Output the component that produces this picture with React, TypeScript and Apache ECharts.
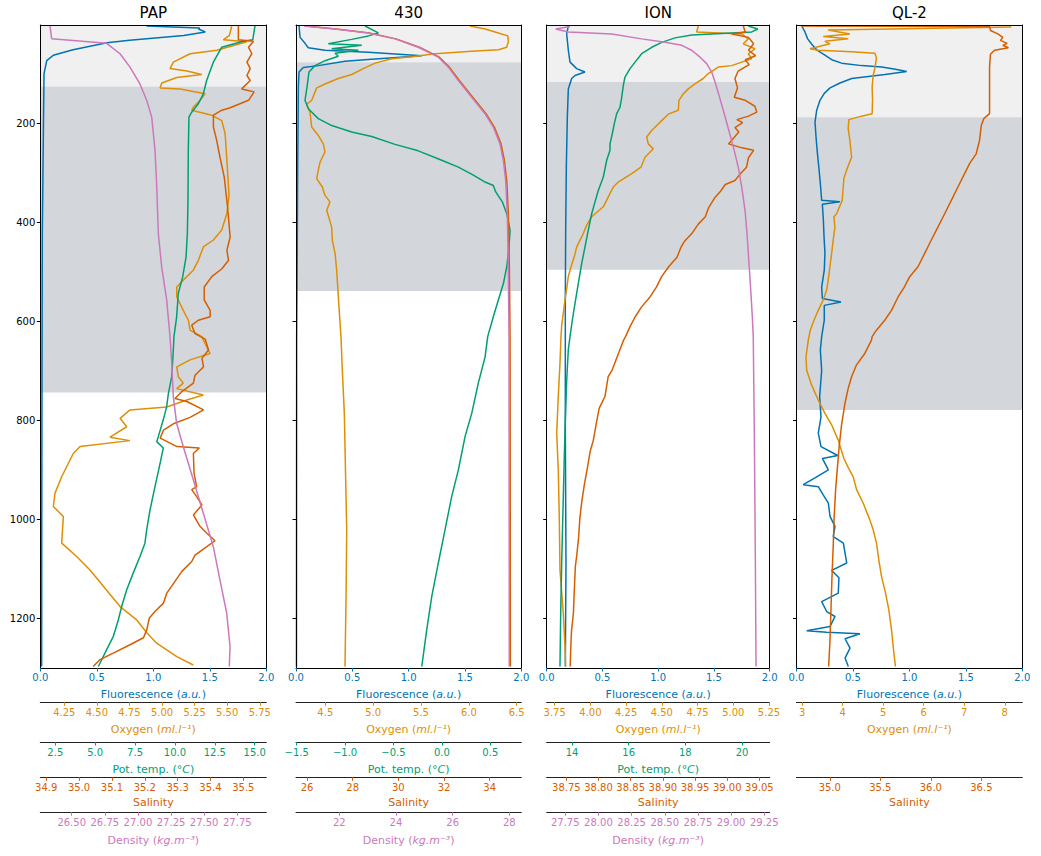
import React, { useEffect, useRef } from 'react';
import * as echarts from 'echarts';

type Pt = [number, number];

const FONT = 'DejaVu Sans';
const COLORS: Record<string, string> = { fl: '#0173B2', ox: '#DE8F05', te: '#029E73', sa: '#D55E00', de: '#CC78BC' };
const SHADE_LIGHT = '#f0f0f0';
const SHADE_DARK = '#d3d7db';

const DEPTH_MIN = 2;
const DEPTH_MAX = 1300;
const DEPTH_TICKS = [200, 400, 600, 800, 1000, 1200];
const FLUO_TICKS = [0, 0.5, 1, 1.5, 2];

// ---------- PAP ----------
const PAP_FLUO: Pt[] = [[0.94,4],[1.41,8],[1.40,10],[1.46,16],[1.27,23],[0.79,33],[0.59,38],[0.29,52],[0.115,63],[0.057,74],[0.033,100],[0.027,221],[0.018,423],[0.015,700],[0.013,1000],[0.012,1297]];
const PAP_OXY: Pt[] = [[5.535,4],[5.517,23],[5.470,32],[5.650,36],[5.420,53],[5.215,60],[5.087,77],[5.061,90],[5.190,95],[5.305,102],[5.113,108],[4.998,119],[4.985,129],[5.138,131],[5.330,141],[5.292,154],[5.240,168],[5.228,174],[5.381,184],[5.458,195],[5.484,221],[5.501,289],[5.514,346],[5.497,383],[5.458,416],[5.394,436],[5.317,450],[5.279,477],[5.240,497],[5.163,517],[5.113,531],[5.113,551],[5.163,578],[5.202,598],[5.215,618],[5.305,631],[5.330,645],[5.368,665],[5.215,678],[5.113,692],[5.125,712],[5.163,725],[5.113,736],[5.317,749],[5.190,759],[5.036,773],[4.754,779],[4.678,796],[4.729,813],[4.601,834],[4.754,841],[4.371,853],[4.319,867],[4.230,914],[4.179,947],[4.166,974],[4.243,994],[4.230,1048],[4.345,1075],[4.447,1102],[4.550,1135],[4.678,1176],[4.806,1203],[4.883,1229],[4.959,1250],[5.113,1277],[5.240,1294]];
const PAP_TEMP: Pt[] = [[15.02,4],[14.88,32],[14.29,35],[12.93,47],[12.41,77],[11.99,114],[11.78,141],[11.47,161],[11.05,178],[10.88,188],[10.84,255],[10.82,356],[10.78,423],[10.70,470],[10.49,510],[10.21,544],[10.11,591],[9.94,631],[9.90,658],[9.80,712],[9.59,746],[9.48,773],[9.27,799],[8.96,833],[8.86,843],[9.27,856],[9.07,887],[8.75,934],[8.44,981],[8.23,1021],[8.12,1048],[7.81,1075],[7.39,1108],[6.98,1142],[6.66,1176],[6.45,1203],[6.14,1236],[5.72,1263],[5.20,1297]];
const PAP_SAL: Pt[] = [[35.485,4],[35.485,32],[35.531,35],[35.516,47],[35.526,60],[35.511,77],[35.521,90],[35.511,104],[35.521,114],[35.495,131],[35.533,137],[35.516,154],[35.460,169],[35.435,174],[35.409,184],[35.409,208],[35.419,235],[35.429,269],[35.442,309],[35.452,369],[35.460,430],[35.450,457],[35.455,477],[35.435,494],[35.404,510],[35.381,531],[35.381,557],[35.399,578],[35.399,591],[35.363,598],[35.343,608],[35.353,625],[35.384,636],[35.394,658],[35.374,675],[35.379,692],[35.353,709],[35.348,725],[35.313,742],[35.292,756],[35.328,762],[35.379,779],[35.338,794],[35.287,807],[35.257,820],[35.247,836],[35.298,853],[35.366,856],[35.348,867],[35.350,907],[35.358,934],[35.343,940],[35.358,954],[35.374,971],[35.348,991],[35.368,1014],[35.389,1028],[35.414,1043],[35.389,1055],[35.353,1072],[35.343,1085],[35.313,1105],[35.292,1125],[35.267,1149],[35.257,1169],[35.231,1186],[35.214,1199],[35.206,1223],[35.196,1239],[35.155,1253],[35.104,1270],[35.064,1283],[35.043,1297]];
const PAP_DENS: Pt[] = [[26.336,3],[26.349,30],[26.764,39],[26.865,60],[26.940,87],[27.015,121],[27.066,154],[27.104,188],[27.129,255],[27.141,322],[27.154,423],[27.179,490],[27.217,557],[27.242,631],[27.255,685],[27.267,752],[27.292,806],[27.342,853],[27.418,920],[27.493,987],[27.569,1055],[27.619,1122],[27.670,1189],[27.695,1256],[27.690,1297]];
const PAP_SHADE = [126, 744];
const PAP_OX_TICKS = [4.25, 4.5, 4.75, 5, 5.25, 5.5, 5.75];
const PAP_TE_TICKS = [2.5, 5, 7.5, 10, 12.5, 15];
const PAP_SA_TICKS = [34.9, 35.0, 35.1, 35.2, 35.3, 35.4, 35.5];
const PAP_DE_TICKS = [26.5, 26.75, 27, 27.25, 27.5, 27.75];

// ---------- 430 ----------
const S430_FLUO: Pt[] = [[0.027,4],[0.036,27],[0.080,39],[0.109,48],[0.257,53],[0.642,57],[1.116,64],[0.672,71],[0.435,75],[0.198,84],[0.065,88],[0.027,97],[0.021,127],[0.015,289],[0.010,500],[0.006,631],[0.004,1297]];
const S430_OXY: Pt[] = [[6.013,4],[6.170,10],[6.309,18],[6.407,24],[6.413,35],[6.396,47],[6.309,52],[6.031,55],[5.647,60],[5.403,66],[5.194,70],[5.020,79],[4.897,90],[4.776,102],[4.636,110],[4.497,121],[4.410,129],[4.385,141],[4.358,154],[4.306,162],[4.340,178],[4.358,208],[4.427,225],[4.479,242],[4.497,258],[4.445,279],[4.427,295],[4.410,312],[4.469,329],[4.497,346],[4.549,359],[4.515,376],[4.567,410],[4.573,436],[4.602,463],[4.619,497],[4.630,531],[4.643,571],[4.664,631],[4.678,699],[4.699,786],[4.713,920],[4.724,1021],[4.717,1156],[4.706,1297]];
const S430_TEMP: Pt[] = [[-0.794,4],[-0.657,18],[-0.760,24],[-0.932,31],[-1.173,40],[-0.828,43],[-1.138,50],[-0.863,53],[-1.104,59],[-1.070,65],[-1.207,74],[-1.311,84],[-1.373,97],[-1.393,127],[-1.414,154],[-1.380,171],[-1.277,191],[-1.138,205],[-0.932,218],[-0.725,227],[-0.484,243],[-0.244,256],[-0.002,275],[0.170,289],[0.325,305],[0.446,319],[0.531,326],[0.556,339],[0.624,359],[0.670,383],[0.704,416],[0.693,450],[0.670,490],[0.635,524],[0.583,557],[0.531,591],[0.473,631],[0.446,672],[0.376,725],[0.308,786],[0.239,833],[0.170,900],[0.101,954],[0.032,1021],[-0.037,1088],[-0.105,1156],[-0.157,1223],[-0.208,1297]];
const S430_SAL: Pt[] = [[25.925,4],[27.270,10],[28.729,18],[29.898,30],[30.919,47],[31.795,67],[32.233,87],[32.671,114],[33.258,148],[33.840,181],[34.204,208],[34.497,242],[34.642,275],[34.747,316],[34.817,383],[34.861,490],[34.892,631],[34.905,1297]];
const S430_DENS: Pt[] = [[20.764,4],[21.848,10],[23.023,18],[23.966,30],[24.788,47],[25.494,67],[25.847,87],[26.200,114],[26.673,148],[27.142,181],[27.435,208],[27.672,242],[27.789,275],[27.873,316],[27.930,383],[27.965,490],[27.990,631],[28.000,1297]];
const S430_SHADE = [77, 539];
const S430_OX_TICKS = [4.5, 5, 5.5, 6, 6.5];
const S430_TE_TICKS = [-1.5, -1, -0.5, 0, 0.5];
const S430_SA_TICKS = [26, 28, 30, 32, 34];
const S430_DE_TICKS = [22, 24, 26, 28];

// ---------- ION ----------
const ION_FLUO: Pt[] = [[0.194,4],[0.179,20],[0.194,53],[0.209,77],[0.269,90],[0.343,97],[0.254,104],[0.224,110],[0.194,131],[0.185,188],[0.176,289],[0.170,423],[0.167,557],[0.167,819],[0.173,1088],[0.167,1297]];
const ION_OXY: Pt[] = [[4.755,4],[4.744,16],[5.059,20],[5.105,30],[5.070,40],[5.152,50],[5.105,60],[5.129,70],[5.059,77],[4.989,84],[4.895,87],[4.825,100],[4.790,110],[4.732,121],[4.685,131],[4.650,141],[4.620,154],[4.615,174],[4.545,182],[4.499,195],[4.429,215],[4.394,228],[4.405,242],[4.440,252],[4.382,269],[4.354,289],[4.289,302],[4.195,319],[4.160,329],[4.125,349],[4.090,369],[4.009,389],[3.974,406],[3.950,423],[3.904,450],[3.887,470],[3.864,490],[3.845,510],[3.834,534],[3.822,557],[3.810,584],[3.799,608],[3.794,631],[3.787,685],[3.775,752],[3.764,826],[3.775,900],[3.782,994],[3.787,1102],[3.810,1189],[3.822,1256],[3.827,1297]];
const ION_TEMP: Pt[] = [[20.223,4],[20.555,10],[20.343,16],[19.284,19],[18.225,22],[17.636,28],[17.166,37],[16.813,47],[16.460,60],[16.224,77],[16.047,90],[15.871,107],[15.811,124],[15.754,148],[15.694,168],[15.578,181],[15.493,201],[15.423,221],[15.341,242],[15.341,255],[15.225,275],[15.105,309],[14.928,336],[14.812,359],[14.695,383],[14.575,416],[14.459,450],[14.342,483],[14.222,524],[14.106,564],[14.011,598],[13.929,631],[13.869,658],[13.813,719],[13.753,819],[13.693,954],[13.636,1088],[13.601,1189],[13.576,1297]];
const ION_SAL: Pt[] = [[39.025,4],[39.028,16],[39.007,20],[39.033,27],[39.041,40],[39.033,53],[39.044,64],[39.028,72],[39.034,82],[39.017,95],[39.012,110],[39.016,129],[39.011,148],[39.028,154],[39.043,166],[39.046,178],[39.033,186],[39.015,193],[39.024,199],[39.012,209],[39.018,218],[39.002,242],[39.023,250],[39.041,255],[39.033,270],[39.030,289],[39.020,303],[39.012,316],[38.997,324],[38.990,337],[38.981,350],[38.971,371],[38.966,389],[38.955,404],[38.945,423],[38.934,438],[38.928,451],[38.922,471],[38.909,490],[38.898,510],[38.890,531],[38.880,551],[38.867,571],[38.857,591],[38.849,611],[38.842,631],[38.839,638],[38.831,665],[38.821,699],[38.815,712],[38.810,752],[38.801,776],[38.797,803],[38.792,840],[38.787,863],[38.783,894],[38.778,930],[38.774,964],[38.771,998],[38.769,1038],[38.766,1075],[38.764,1095],[38.762,1156],[38.761,1189],[38.758,1226],[38.757,1256],[38.756,1297]];
const ION_DENS: Pt[] = [[27.786,5],[27.678,10],[27.773,16],[28.100,20],[28.326,30],[28.502,37],[28.628,43],[28.703,53],[28.766,67],[28.816,80],[28.854,97],[28.879,117],[28.909,144],[28.941,174],[28.979,211],[29.017,248],[29.054,289],[29.080,329],[29.105,376],[29.120,423],[29.135,483],[29.148,537],[29.160,591],[29.167,631],[29.175,819],[29.183,1088],[29.188,1297]];
const ION_SHADE = [117, 496];
const ION_OX_TICKS = [3.75, 4, 4.25, 4.5, 4.75, 5, 5.25];
const ION_TE_TICKS = [14, 16, 18, 20];
const ION_SA_TICKS = [38.75, 38.8, 38.85, 38.9, 38.95, 39, 39.05];
const ION_DE_TICKS = [27.75, 28, 28.25, 28.5, 28.75, 29, 29.25];

// ---------- QL-2 ----------
const QL2_FLUO: Pt[] = [[0.046,4],[0.075,16],[0.099,30],[0.135,41],[0.179,52],[0.238,61],[0.312,72],[0.400,79],[0.578,84],[0.755,87],[0.888,92],[0.976,96],[0.784,102],[0.636,106],[0.489,110],[0.385,119],[0.297,129],[0.246,140],[0.208,154],[0.179,174],[0.164,198],[0.173,228],[0.184,258],[0.199,292],[0.211,322],[0.223,356],[0.385,359],[0.229,364],[0.238,396],[0.244,430],[0.252,463],[0.246,497],[0.223,531],[0.229,554],[0.394,561],[0.246,568],[0.246,598],[0.223,631],[0.211,658],[0.223,699],[0.205,752],[0.217,793],[0.193,826],[0.217,853],[0.365,871],[0.229,877],[0.282,900],[0.179,914],[0.060,930],[0.193,934],[0.238,951],[0.282,967],[0.297,994],[0.341,1014],[0.326,1035],[0.415,1048],[0.445,1088],[0.312,1103],[0.376,1118],[0.370,1149],[0.223,1166],[0.267,1186],[0.341,1196],[0.297,1216],[0.090,1225],[0.267,1228],[0.562,1231],[0.430,1241],[0.474,1260],[0.430,1280],[0.459,1297]];
const QL2_OXY: Pt[] = [[8.160,6],[3.643,12],[4.178,20],[3.520,25],[4.136,30],[3.562,35],[3.685,40],[3.193,50],[3.397,53],[4.220,56],[4.793,59],[4.835,68],[4.793,90],[4.752,104],[4.727,127],[4.737,154],[4.727,181],[4.466,186],[4.153,193],[4.136,211],[4.178,235],[4.220,269],[4.096,295],[4.030,312],[3.988,356],[3.850,383],[3.784,389],[3.808,410],[3.766,436],[3.727,463],[3.685,490],[3.643,517],[3.604,537],[3.520,557],[3.397,578],[3.291,598],[3.200,618],[3.168,631],[3.151,638],[3.094,672],[3.111,699],[3.234,729],[3.397,759],[3.562,786],[3.727,809],[3.890,840],[4.030,877],[4.136,895],[4.259,914],[4.343,940],[4.505,967],[4.670,1001],[4.752,1021],[4.835,1048],[4.892,1082],[4.958,1115],[5.057,1149],[5.138,1182],[5.205,1223],[5.254,1263],[5.303,1297]];
const QL2_SAL: Pt[] = [[34.722,4],[36.581,5],[36.590,13],[36.663,20],[36.712,27],[36.689,33],[36.755,39],[36.712,43],[36.768,48],[36.630,53],[36.590,61],[36.581,87],[36.581,181],[36.524,191],[36.499,205],[36.482,235],[36.449,262],[36.383,282],[36.334,302],[36.268,329],[36.203,356],[36.137,383],[36.070,410],[36.005,436],[35.939,463],[35.873,490],[35.791,510],[35.735,532],[35.676,551],[35.611,578],[35.544,598],[35.462,618],[35.419,631],[35.413,638],[35.347,665],[35.265,688],[35.216,712],[35.182,736],[35.150,766],[35.117,809],[35.093,853],[35.074,900],[35.058,940],[35.044,994],[35.034,1055],[35.021,1122],[35.011,1189],[35.001,1250],[34.989,1297]];
const QL2_SHADE = [188, 779];
const QL2_OX_TICKS = [3, 4, 5, 6, 7, 8];
const QL2_SA_TICKS = [35, 35.5, 36, 36.5];

// ---------- layout ----------
const PLOT_TOP = 24.5;
const PLOT_BOTTOM = 668;
const OFFSETS: Record<string, number> = { fl: 0, ox: 34.3, te: 74, sa: 109.3, de: 144.3 };
const NAME_GAPS: Record<string, number> = { fl: 21, ox: 22, te: 22, sa: 17, de: 22.5 };
const AXIS_NAMES: Record<string, string> = {
  fl: 'Fluorescence ({i|a.u.})',
  ox: 'Oxygen ({i|ml.l⁻¹})',
  te: 'Pot. temp. (°{i|C})',
  sa: 'Salinity',
  de: 'Density ({i|kg.m⁻³})',
};

type AxisSpec = { key: string; min: number; max: number; ticks: number[]; dec: number; data: Pt[] };
type Panel = { title: string; left: number; width: number; shade: number[]; axes: AxisSpec[] };

const PANELS: Panel[] = [
  { title: 'PAP', left: 40.3, width: 226, shade: PAP_SHADE, axes: [
    { key: 'fl', min: 0, max: 2, ticks: FLUO_TICKS, dec: 1, data: PAP_FLUO },
    { key: 'ox', min: 4.066, max: 5.80, ticks: PAP_OX_TICKS, dec: 2, data: PAP_OXY },
    { key: 'te', min: 1.56, max: 15.73, ticks: PAP_TE_TICKS, dec: 1, data: PAP_TEMP },
    { key: 'sa', min: 34.882, max: 35.570, ticks: PAP_SA_TICKS, dec: 1, data: PAP_SAL },
    { key: 'de', min: 26.263, max: 27.969, ticks: PAP_DE_TICKS, dec: 2, data: PAP_DENS },
  ] },
  { title: '430', left: 296, width: 225.3, shade: S430_SHADE, axes: [
    { key: 'fl', min: 0, max: 2, ticks: FLUO_TICKS, dec: 1, data: S430_FLUO },
    { key: 'ox', min: 4.194, max: 6.548, ticks: S430_OX_TICKS, dec: 1, data: S430_OXY },
    { key: 'te', min: -1.507, max: 0.82, ticks: S430_TE_TICKS, dec: 1, data: S430_TEMP },
    { key: 'sa', min: 25.518, max: 35.384, ticks: S430_SA_TICKS, dec: 0, data: S430_SAL },
    { key: 'de', min: 20.471, max: 28.424, ticks: S430_DE_TICKS, dec: 0, data: S430_DENS },
  ] },
  { title: 'ION', left: 546.7, width: 223, shade: ION_SHADE, axes: [
    { key: 'fl', min: 0, max: 2, ticks: FLUO_TICKS, dec: 1, data: ION_FLUO },
    { key: 'ox', min: 3.694, max: 5.255, ticks: ION_OX_TICKS, dec: 2, data: ION_OXY },
    { key: 'te', min: 13.107, max: 20.977, ticks: ION_TE_TICKS, dec: 0, data: ION_TEMP },
    { key: 'sa', min: 38.7195, max: 39.066, ticks: ION_SA_TICKS, dec: 2, data: ION_SAL },
    { key: 'de', min: 27.61, max: 29.291, ticks: ION_DE_TICKS, dec: 2, data: ION_DENS },
  ] },
  { title: 'QL-2', left: 796.5, width: 225.8, shade: QL2_SHADE, axes: [
    { key: 'fl', min: 0, max: 2, ticks: FLUO_TICKS, dec: 1, data: QL2_FLUO },
    { key: 'ox', min: 2.86, max: 8.433, ticks: QL2_OX_TICKS, dec: 0, data: QL2_OXY },
    { key: 'sa', min: 34.671, max: 36.905, ticks: QL2_SA_TICKS, dec: 1, data: QL2_SAL },
  ] },
];

const DRAW_ORDER = ['fl', 'ox', 'te', 'sa', 'de'];

function buildOption() {
  const grid: any[] = [];
  const xAxis: any[] = [];
  const yAxis: any[] = [];
  const series: any[] = [];
  const FS = 10;
  const NFS = 11;

  PANELS.forEach((p, gi) => {
    grid.push({ left: p.left, top: PLOT_TOP, width: p.width, height: PLOT_BOTTOM - PLOT_TOP, containLabel: false });

    const yi = yAxis.length;
    yAxis.push({
      type: 'value', gridIndex: gi, inverse: true, min: DEPTH_MIN, max: DEPTH_MAX, z: 6,
      axisLine: { show: true, onZero: false, lineStyle: { color: '#000', width: 1 } },
      axisTick: { show: true, customValues: DEPTH_TICKS, length: 3.5, lineStyle: { color: '#000' } },
      axisLabel: {
        show: gi === 0, customValues: DEPTH_TICKS, color: '#000', fontSize: FS, fontFamily: FONT, margin: 5,
        formatter: (v: number) => String(Math.round(v)),
      },
      splitLine: { show: false },
    });
    yAxis.push({
      type: 'value', gridIndex: gi, position: 'right', inverse: true, min: DEPTH_MIN, max: DEPTH_MAX, z: 6,
      axisLine: { show: true, onZero: false, lineStyle: { color: '#000', width: 1 } },
      axisTick: { show: false }, axisLabel: { show: false }, splitLine: { show: false },
    });

    // top frame + title
    xAxis.push({
      type: 'value', gridIndex: gi, position: 'top', min: 0, max: 1, z: 6,
      axisLine: { show: true, onZero: false, lineStyle: { color: '#000', width: 1 } },
      axisTick: { show: false }, axisLabel: { show: false }, splitLine: { show: false },
      name: p.title, nameLocation: 'middle', nameGap: 5,
      nameTextStyle: { fontSize: 15, fontWeight: 'normal', color: '#000', fontFamily: FONT },
    });

    const axisIdx: Record<string, number> = {};
    p.axes.forEach((a) => {
      const col = COLORS[a.key];
      axisIdx[a.key] = xAxis.length;
      xAxis.push({
        type: 'value', gridIndex: gi, position: 'bottom', offset: OFFSETS[a.key], min: a.min, max: a.max, z: 6,
        axisLine: { show: true, onZero: false, lineStyle: { color: a.key === 'fl' ? '#000' : '#222', width: 1 } },
        axisTick: { show: true, customValues: a.ticks, length: 3.5, lineStyle: { color: col } },
        axisLabel: {
          show: true, customValues: a.ticks, color: col, fontSize: FS, fontFamily: FONT, margin: a.key === 'fl' ? 4 : 5,
          formatter: (v: number) => v.toFixed(a.dec).replace('-', '\u2212'),
        },
        splitLine: { show: false },
        name: AXIS_NAMES[a.key], nameLocation: 'middle', nameGap: NAME_GAPS[a.key],
        nameTextStyle: {
          color: col, fontSize: NFS, fontFamily: FONT,
          rich: { i: { fontStyle: 'italic', color: col, fontSize: NFS, fontFamily: FONT } },
        },
      });
    });

    // shading bands
    series.push({
      type: 'line', xAxisIndex: axisIdx['fl'], yAxisIndex: yi, data: [], z: 1, silent: true,
      markArea: {
        silent: true,
        data: [
          [{ yAxis: DEPTH_MIN, itemStyle: { color: SHADE_LIGHT } }, { yAxis: p.shade[0] }],
          [{ yAxis: p.shade[0], itemStyle: { color: SHADE_DARK } }, { yAxis: p.shade[1] }],
        ],
      },
    });

    DRAW_ORDER.forEach((k) => {
      const a = p.axes.find((x) => x.key === k);
      if (!a) return;
      series.push({
        type: 'line', xAxisIndex: axisIdx[k], yAxisIndex: yi, data: a.data, z: 3,
        showSymbol: false, symbol: 'none', smooth: false,
        lineStyle: { color: COLORS[k], width: 1.5 }, itemStyle: { color: COLORS[k] },
      });
    });
  });

  return { animation: false, backgroundColor: '#fff', textStyle: { fontFamily: FONT }, grid, xAxis, yAxis, series };
}

export default function App() {
  const ref = useRef<HTMLDivElement>(null);
  useEffect(() => {
    document.body.style.margin = '0';
    if (!ref.current) return;
    const chart = echarts.init(ref.current, undefined, { renderer: 'svg' });
    chart.setOption(buildOption());
    return () => chart.dispose();
  }, []);
  return <div ref={ref} style={{ width: 1041, height: 856 }} />;
}
